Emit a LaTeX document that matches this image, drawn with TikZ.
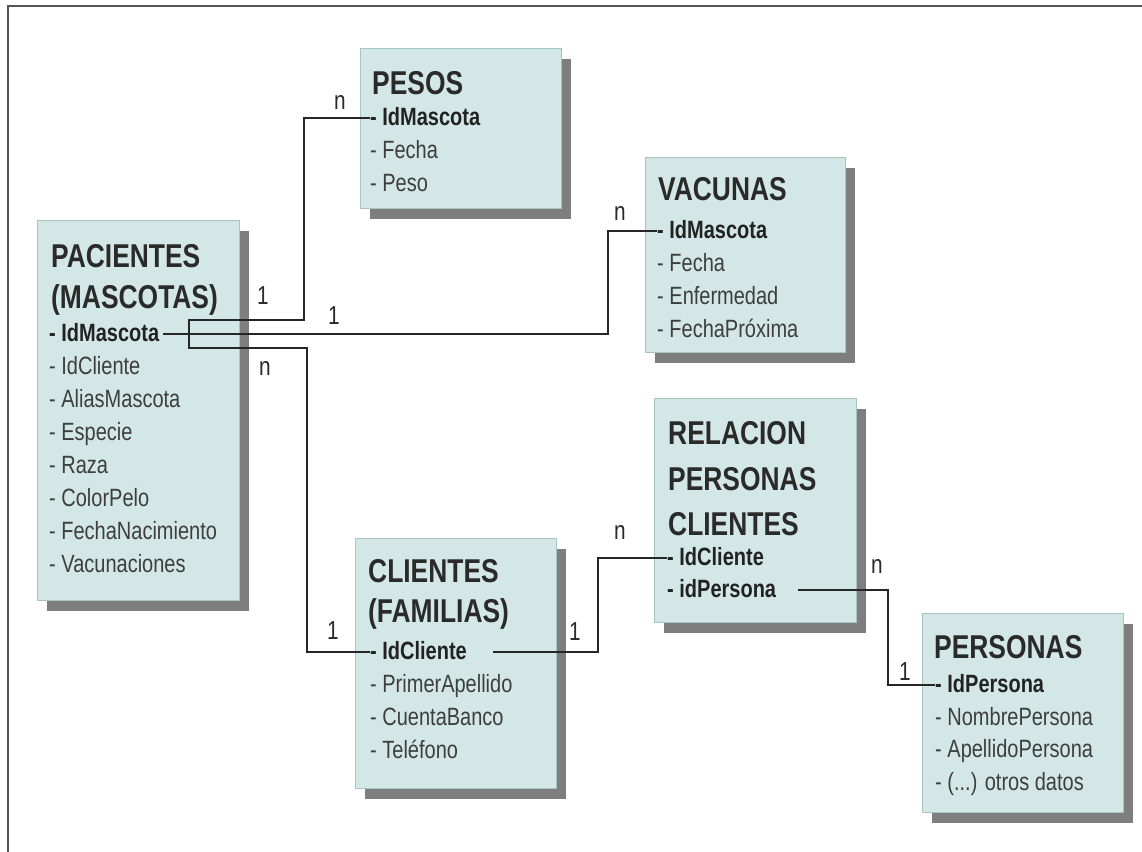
\documentclass[tikz,border=0pt]{standalone}
\usepackage{fontspec}
\setmainfont{Liberation Sans}[FakeStretch=0.80]
\newfontfamily\ttlfamily{Liberation Sans}[FakeStretch=0.80]
\usetikzlibrary{shadows}
\definecolor{boxfill}{HTML}{D3E7E6}
\definecolor{boxborder}{HTML}{A9C2C2}
\definecolor{shadowgray}{HTML}{7E7E7E}
\definecolor{titlecol}{HTML}{2A2A2A}
\definecolor{itemcol}{HTML}{3E3E3E}
\definecolor{keycol}{HTML}{222222}
\definecolor{linecol}{HTML}{262626}
\definecolor{framecol}{HTML}{555555}
\tikzset{
  box/.style={draw=boxborder, fill=boxfill, line width=0.8pt, inner sep=0pt, outer sep=0pt,
    anchor=north west,
    drop shadow={shadow xshift=10pt, shadow yshift=-11pt, fill=shadowgray, opacity=1}},
  ttl/.style={anchor=base west, inner sep=0pt, text=titlecol,
    font=\ttlfamily\bfseries\fontsize{33}{33}\selectfont},
  item/.style={anchor=base west, inner sep=0pt, text=itemcol,
    font=\fontsize{25}{25}\selectfont},
  keyitem/.style={item, text=keycol, font=\bfseries\fontsize{25}{25}\selectfont},
  card/.style={inner sep=0pt, text=titlecol, font=\fontsize{26}{26}\selectfont},
  conn/.style={draw=linecol, line width=1.6pt}
}
\begin{document}
\begin{tikzpicture}[x=1pt,y=-1pt]
\fill[white] (0,0) rectangle (1142,851);
\useasboundingbox (0,0) rectangle (1142,851);
\draw[framecol, line width=1.5pt] (1143,6) -- (8,6) -- (8,852);

% boxes
\node[box, minimum width=202pt, minimum height=380pt] (pac) at (37,220) {};
\node[box, minimum width=201pt, minimum height=160pt] (pes) at (360,48) {};
\node[box, minimum width=200pt, minimum height=195pt] (vac) at (645,157) {};
\node[box, minimum width=202pt, minimum height=224pt] (rel) at (654,398) {};
\node[box, minimum width=201pt, minimum height=250pt] (cli) at (355,538) {};
\node[box, minimum width=201pt, minimum height=199pt] (per) at (922,613) {};

% PACIENTES
\node[ttl] (pac-t1) at (51,267) {PACIENTES};
\node[ttl] (pac-t2) at (51,308) {(MASCOTAS)};
\node[keyitem] (pac-id) at (49,341) {- IdMascota};
\node[item] (pac-i2) at (49,374) {- IdCliente};
\node[item] (pac-i3) at (49,407) {- AliasMascota};
\node[item] (pac-i4) at (49,440) {- Especie};
\node[item] (pac-i5) at (49,473) {- Raza};
\node[item] (pac-i6) at (49,506) {- ColorPelo};
\node[item] (pac-i7) at (49,539) {- FechaNacimiento};
\node[item] (pac-i8) at (49,572) {- Vacunaciones};

% PESOS
\node[ttl] (pes-t1) at (372,94) {PESOS};
\node[keyitem] (pes-id) at (370,125) {- IdMascota};
\node[item] (pes-i2) at (370,158) {- Fecha};
\node[item] (pes-i3) at (370,191) {- Peso};

% VACUNAS
\node[ttl] (vac-t1) at (658,200) {VACUNAS};
\node[keyitem] (vac-id) at (657,238) {- IdMascota};
\node[item] (vac-i2) at (657,271) {- Fecha};
\node[item] (vac-i3) at (657,304) {- Enfermedad};
\node[item] (vac-i4) at (657,337) {- FechaPróxima};

% RELACION PERSONAS CLIENTES
\node[ttl] (rel-t1) at (668,444) {RELACION};
\node[ttl] (rel-t2) at (668,490) {PERSONAS};
\node[ttl] (rel-t3) at (668,535) {CLIENTES};
\node[keyitem] (rel-id) at (667,565) {- IdCliente};
\node[keyitem] (rel-ip) at (667,597) {- idPersona};

% CLIENTES
\node[ttl] (cli-t1) at (368,582) {CLIENTES};
\node[ttl] (cli-t2) at (368,622) {(FAMILIAS)};
\node[keyitem] (cli-id) at (370,659) {- IdCliente};
\node[item] (cli-i2) at (370,692) {- PrimerApellido};
\node[item] (cli-i3) at (370,725) {- CuentaBanco};
\node[item] (cli-i4) at (370,758) {- Teléfono};

% PERSONAS
\node[ttl] (per-t1) at (934,658) {PERSONAS};
\node[keyitem] (per-id) at (935,692) {- IdPersona};
\node[item] (per-i2) at (935,725) {- NombrePersona};
\node[item] (per-i3) at (935,757) {- ApellidoPersona};
\node[item] (per-i4) at (935,790) {- (...) otros datos};

% connectors
\draw[conn] ([yshift=7pt]pes-id.base west) -| (304,320) -- (189,320) -- (189,348) -- (307,348)
  |- ([yshift=7pt]cli-id.base west);
\draw[conn] ([xshift=4pt,yshift=7pt]pac-id.base east) -| (608,280) |- ([yshift=7pt]vac-id.base west);
\draw[conn] ([xshift=26pt,yshift=7pt]cli-id.base east) -| (598,600) |- ([yshift=7pt]rel-id.base west);
\draw[conn] ([xshift=22pt,yshift=7pt]rel-ip.base east) -| (888,640) |- ([yshift=7pt]per-id.base west);

% cardinalities
\node[card] (c-n1) at (340,103) {n};
\node[card] (c-11) at (263,296) {1};
\node[card] (c-12) at (334,316) {1};
\node[card] (c-n2) at (620,214) {n};
\node[card] (c-n3) at (265,368) {n};
\node[card] (c-13) at (333,631) {1};
\node[card] (c-14) at (575,632) {1};
\node[card] (c-n4) at (620,532) {n};
\node[card] (c-n5) at (877,566) {n};
\node[card] (c-15) at (905,672) {1};
\end{tikzpicture}
\end{document}
